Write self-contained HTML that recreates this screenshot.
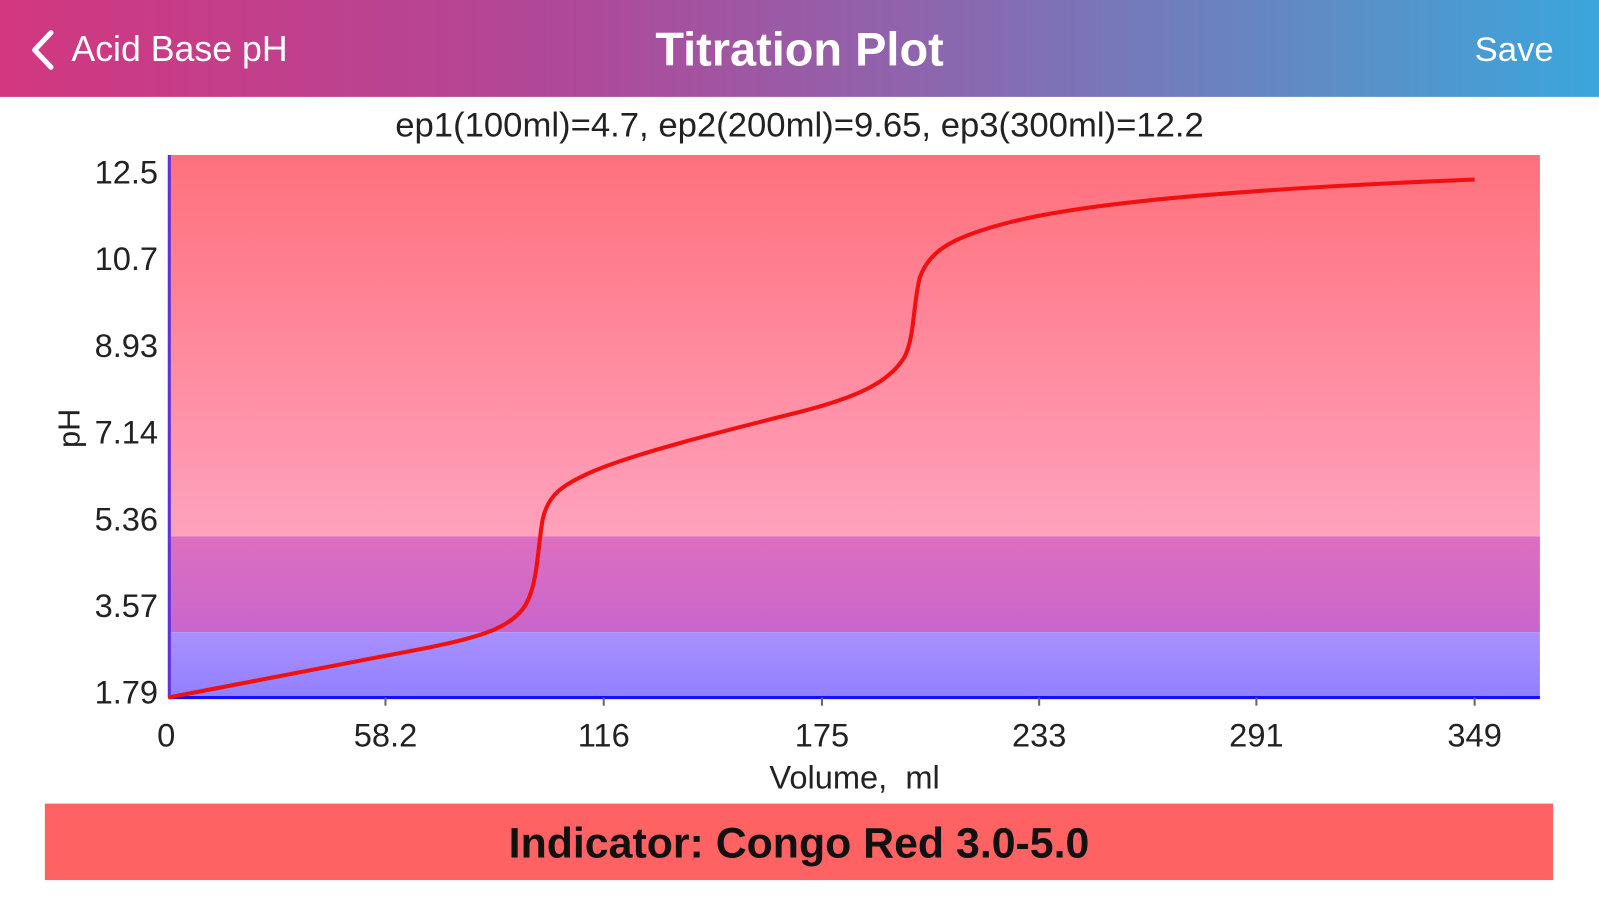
<!DOCTYPE html>
<html><head><style>
body{margin:0;width:1599px;height:900px;background:#fff;font-family:"Liberation Sans",sans-serif;overflow:hidden}
#w{position:absolute;left:0;top:0;width:1568px;height:883px;transform:scale(1.0198);transform-origin:0 0}
.hdr{position:absolute;left:0;top:0;width:1568px;height:95px;background:linear-gradient(90deg,#d23780 0%,#b04898 35%,#8a68b0 60%,#5a90c8 85%,#3aa6dc 100%);color:#fff}
.ind{position:absolute;left:44px;top:788px;width:1479px;height:75px;background:#ff6262;text-align:center;line-height:77px;font-weight:bold;font-size:42px;color:#111}
</style></head><body><div id="w">
<div class="hdr">
<svg style="position:absolute;left:28px;top:28px" width="30" height="42"><polyline points="22,4 6,21 22,38" fill="none" stroke="#fff" stroke-width="5" stroke-linecap="round" stroke-linejoin="round"/></svg>
<div style="position:absolute;left:70px;top:29px;font-size:35px">Acid Base pH</div>
<div style="position:absolute;left:0;width:1568px;text-align:center;top:21px;font-size:46px;font-weight:bold">Titration Plot</div>
<div style="position:absolute;left:1446px;top:30px;font-size:34px">Save</div>
</div>
<div style="position:absolute;left:0;width:1568px;text-align:center;top:104px;font-size:34px;color:#222">ep1(100ml)=4.7, ep2(200ml)=9.65, ep3(300ml)=12.2</div>
<svg style="position:absolute;left:0;top:0" width="1568" height="883">
<defs>
<linearGradient id="p" x1="0" y1="0" x2="0" y2="1"><stop offset="0" stop-color="#ff707c"/><stop offset="1" stop-color="#ffa2bd"/></linearGradient>
<linearGradient id="m" x1="0" y1="0" x2="0" y2="1"><stop offset="0" stop-color="#de6ec0"/><stop offset="1" stop-color="#c866cc"/></linearGradient>
<linearGradient id="b" x1="0" y1="0" x2="0" y2="1"><stop offset="0" stop-color="#aa90ff"/><stop offset="1" stop-color="#9080ff"/></linearGradient>
</defs>
<rect x="165" y="152" width="1345" height="374" fill="url(#p)"/>
<rect x="165" y="526" width="1345" height="94" fill="url(#m)"/>
<rect x="165" y="620" width="1345" height="64" fill="url(#b)"/>
<line x1="166" y1="152" x2="166" y2="684" stroke="#6030e0" stroke-width="3"/>
<line x1="165" y1="684" x2="1510" y2="684" stroke="#1010ff" stroke-width="3"/>
<path d="M165,684 C260,665 340,650 420,635 C470,625 505,615 517,590 C527,570 527,540 532,510 C537,485 552,475 582,462 C622,445 700,425 780,405 C840,390 872,375 887,350 C897,330 895,300 902,272 C912,245 935,232 990,218 C1060,200 1200,186 1446,176" fill="none" stroke="#f01010" stroke-width="4"/>
<g font-size="32" fill="#222" text-anchor="end">
<text x="155" y="180">12.5</text><text x="155" y="265">10.7</text><text x="155" y="350">8.93</text><text x="155" y="435">7.14</text><text x="155" y="520">5.36</text><text x="155" y="605">3.57</text><text x="155" y="690">1.79</text>
</g>
<g font-size="32" fill="#222" text-anchor="middle">
<text x="163" y="732">0</text><text x="378" y="732">58.2</text><text x="592" y="732">116</text><text x="806" y="732">175</text><text x="1019" y="732">233</text><text x="1232" y="732">291</text><text x="1446" y="732">349</text>
<text x="838" y="773" xml:space="preserve">Volume,  ml</text>
</g>
<g stroke="#666" stroke-width="2"><line x1="378" y1="684" x2="378" y2="692"/><line x1="592" y1="684" x2="592" y2="692"/><line x1="806" y1="684" x2="806" y2="692"/><line x1="1019" y1="684" x2="1019" y2="692"/><line x1="1232" y1="684" x2="1232" y2="692"/><line x1="1446" y1="684" x2="1446" y2="692"/></g>
<text x="78" y="420" font-size="30" fill="#222" text-anchor="middle" transform="rotate(-90 78 420)">pH</text>
</svg>
<div class="ind">Indicator: Congo Red 3.0-5.0</div>
</div></body></html>
